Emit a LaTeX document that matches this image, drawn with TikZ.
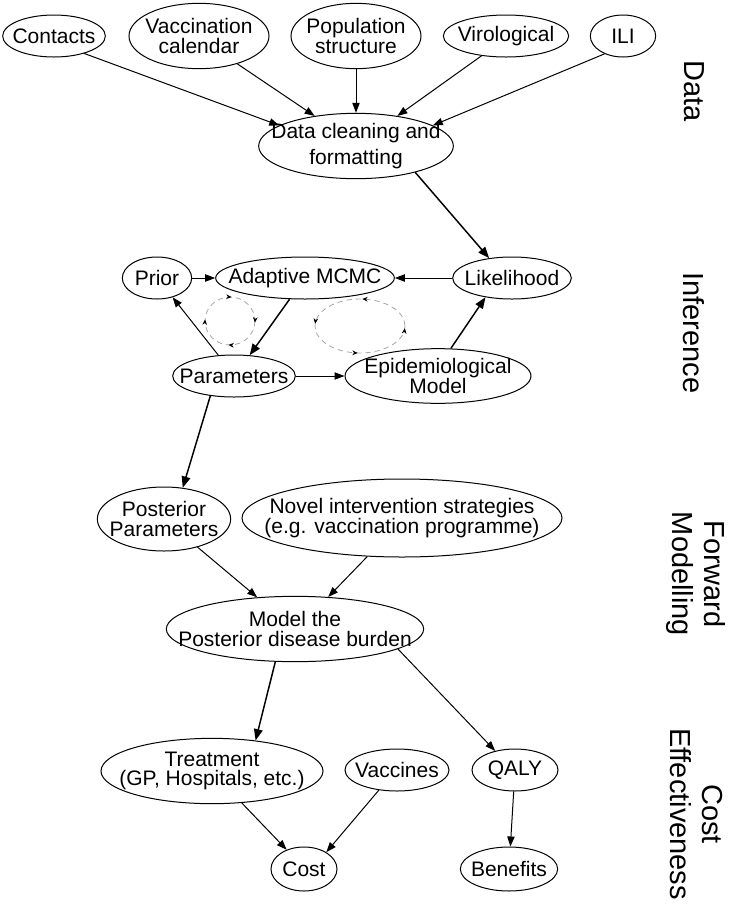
\documentclass[tikz,border=0pt]{standalone}
\usepackage{fontspec}
\setmainfont{Liberation Sans}
\usetikzlibrary{shapes.geometric,arrows.meta,decorations.markings}
\newcommand{\ctr}[1]{\makebox[0pt]{#1}}
\tikzset{
	blob/.style={ellipse, draw, line width=0.75pt, inner sep=0pt, inner ysep=-3pt, align=center, font=\fontsize{15.75}{14.8}\selectfont},
	stage/.style={rotate=-90, align=center, font=\fontsize{21.75}{24}\selectfont},
	edge/.style={-{Triangle[length=7.5pt,width=5.5pt]}, line width=0.75pt},
	heavy/.style={-{Triangle[length=8.5pt,width=6.5pt]}, line width=1.1pt},
	cwloop/.style={gray!70, line width=0.6pt, dash pattern=on 4pt off 3pt, postaction={decorate},
		decoration={markings, mark=between positions 0.01 and 1 step 0.25 with {\arrow{Stealth[length=4pt,width=3.5pt,color=black]}}}},
	ccwloop/.style={gray!70, line width=0.6pt, dash pattern=on 4pt off 3pt, postaction={decorate},
		decoration={markings, mark=between positions 0.01 and 1 step 0.25 with {\arrowreversed{Stealth[length=4pt,width=3.5pt,color=black]}}}}
}
\begin{document}
\begin{tikzpicture}[x=0.75pt, y=-0.75pt]
	\useasboundingbox (0,0) rectangle (730,908);
	\node (contacts) at (54,36) [blob, minimum width=77pt, minimum height=31.5pt] {\ctr{Contacts}};
	\node (vacc) at (199,36) [blob, minimum width=105pt, minimum height=49pt] {\ctr{Vaccination}\\\ctr{calendar}};
	\node (popn) at (356,36) [blob, minimum width=97.5pt, minimum height=49pt] {\ctr{Population}\\\ctr{structure}};
	\node (viro) at (506,36) [blob, minimum width=94pt, minimum height=31.5pt] {\ctr{Virological}};
	\node (ili) at (623,36) [blob, minimum width=49pt, minimum height=31.5pt] {\ctr{ILI}};
	\node (clean) at (356,146) [blob, minimum width=146pt, minimum height=49pt, font=\fontsize{15.75}{19}\selectfont] {\ctr{Data cleaning and}\\\ctr{formatting}};
	\node (prior) at (157,278) [blob, minimum width=52pt, minimum height=31.5pt] {\ctr{Prior}};
	\node (mcmc) at (305,278) [blob, minimum width=134pt, minimum height=31.5pt] {\ctr{Adaptive MCMC}};
	\node (lik) at (512,278) [blob, minimum width=89pt, minimum height=31.5pt] {\ctr{Likelihood}};
	\node (params) at (234,376) [blob, minimum width=92pt, minimum height=31.5pt] {\ctr{Parameters}};
	\node (epi) at (438,376) [blob, minimum width=139.5pt, minimum height=41pt] {\ctr{Epidemiological}\\\ctr{Model}};
	\node (post) at (164,519) [blob, minimum width=100pt, minimum height=48pt] {\ctr{Posterior}\\\ctr{Parameters}};
	\node (novel) at (402,518) [blob, minimum width=240pt, minimum height=58.5pt] {\ctr{Novel intervention strategies}\\\ctr{(e.g. vaccination programme)}};
	\node (burden) at (295,629) [blob, minimum width=193pt, minimum height=49pt] {\ctr{Model the}\\\ctr{Posterior disease burden}};
	\node (treat) at (212,771) [blob, minimum width=166.5pt, minimum height=49pt] {\ctr{Treatment}\\\ctr{(GP, Hospitals, etc.)}};
	\node (vaccines) at (397,770) [blob, minimum width=78pt, minimum height=31.5pt] {\ctr{Vaccines}};
	\node (qaly) at (515,770) [blob, minimum width=64.5pt, minimum height=31.5pt] {\ctr{QALY}};
	\node (cost) at (304,869) [blob, minimum width=49.5pt, minimum height=33pt] {\ctr{Cost}};
	\node (benefits) at (509,869) [blob, minimum width=73pt, minimum height=33pt] {\ctr{Benefits}};
	\node (sdata) at (694,91) [stage] {Data};
	\node (sinfer) at (694,333) [stage] {Inference};
	\node (sforward) at (696,574) [stage] {Forward\\Modelling};
	\node (scost) at (696,814) [stage] {Cost\\Effectiveness};
	\draw [edge] (contacts.-30) -- (clean.165);
	\draw [edge] (vacc.-36) -- (clean.144);
	\draw [edge] (popn) -- (clean);
	\draw [edge] (viro.-141) -- (clean.36);
	\draw [edge] (ili.-136) -- (clean.15);
	\draw [heavy] (clean.-24) -- (lik.139);
	\draw [edge] (lik) -- (mcmc);
	\draw [edge] (prior) -- (mcmc);
	\draw [heavy] (mcmc.-126) -- (params.53);
	\draw [edge] (params.127) -- (prior.-51);
	\draw [edge] (params) -- (epi);
	\draw [heavy] (epi.65) -- (lik.-144);
	\draw [heavy] (params.-140) -- (post.59);
	\draw [edge] (post.-40) -- (burden.140);
	\draw [edge] (novel.-132) -- (burden.44);
	\draw [heavy] (burden.-121) -- (treat.35);
	\draw [edge] (burden.-11) -- (qaly.136);
	\draw [edge] (treat.-47) -- (cost.132);
	\draw [edge] (vaccines.-132) -- (cost.37);
	\draw [edge] (qaly) -- (benefits);
	\draw [cwloop] (230,321) ellipse [x radius=25, y radius=24];
	\draw [ccwloop] (360,326) ellipse [x radius=45, y radius=27];
\end{tikzpicture}
\end{document}
